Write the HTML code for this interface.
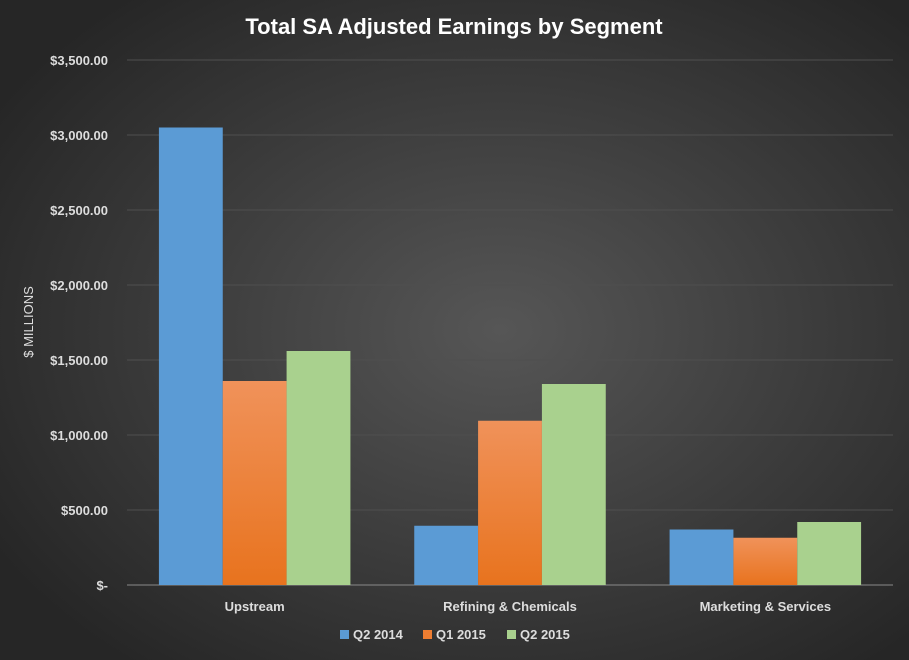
<!DOCTYPE html>
<html><head><meta charset="utf-8"><style>
html,body{margin:0;padding:0;width:909px;height:660px;overflow:hidden;background:#333;}
svg{display:block;font-family:"Liberation Sans",sans-serif;}
</style></head><body>
<svg id="chart" width="909" height="660">
<defs>
<radialGradient id="bg" cx="55%" cy="50%" r="65%">
<stop offset="0" stop-color="#565656"/><stop offset="1" stop-color="#262626"/>
</radialGradient>
<linearGradient id="og" x1="0" y1="0" x2="0" y2="1">
<stop offset="0" stop-color="#f0925a"/><stop offset="1" stop-color="#e8731e"/>
</linearGradient>
</defs>
<rect width="909" height="660" fill="url(#bg)"/>
<text x="454" y="34" text-anchor="middle" fill="#fff" font-size="22" font-weight="bold">Total SA Adjusted Earnings by Segment</text>
<text transform="translate(33,322) rotate(-90)" text-anchor="middle" fill="#ddd" font-size="13">$ MILLIONS</text>
<g id="grid"></g><g id="bars"></g><g id="xl"></g>
<g>
<rect x="340" y="630" width="9" height="9" fill="#5b9bd5"/>
<text x="353" y="639" fill="#ddd" font-size="13" font-weight="bold">Q2 2014</text>
<rect x="423" y="630" width="9" height="9" fill="#ed7d31"/>
<text x="436" y="639" fill="#ddd" font-size="13" font-weight="bold">Q1 2015</text>
<rect x="507" y="630" width="9" height="9" fill="#a9d18e"/>
<text x="520" y="639" fill="#ddd" font-size="13" font-weight="bold">Q2 2015</text>
</g>
</svg>
<script>
const categories=["Upstream","Refining & Chemicals","Marketing & Services"];
const q22014=[3050,395,370];
const q12015=[1360,1095,315];
const q22015=[1560,1340,420];
const ticks=[0,500,1000,1500,2000,2500,3000,3500];
const tickLabels=["$-","$500.00","$1,000.00","$1,500.00","$2,000.00","$2,500.00","$3,000.00","$3,500.00"];
const NS="http://www.w3.org/2000/svg";
const x0=127,x1=893,yb=585,yt=60,ymax=3500;
const y=v=>yb-(v/ymax)*(yb-yt);
const bw=(x1-x0)/categories.length;
function mk(t,a,p){const e=document.createElementNS(NS,t);for(const k in a)e.setAttribute(k,a[k]);p.appendChild(e);return e;}
const g=document.getElementById('grid');
ticks.forEach((t,i)=>{
 const l=mk('line',{x1:x0,x2:x1,y1:y(t),y2:y(t),stroke:i==0?'#8a8a8a':'#4f4f4f','stroke-width':1},g);
 
 
 const tx=mk('text',{x:108,y:y(t)+5,'text-anchor':'end',fill:'#ddd','font-size':13,'font-weight':'bold'},g);
 tx.textContent=tickLabels[i];
 
 
});
const series=[q22014,q12015,q22015],fills=['#5b9bd5','url(#og)','#a9d18e'],names=['q2-2014','q1-2015','q2-2015'];
const b=document.getElementById('bars'),xl=document.getElementById('xl');
categories.forEach((c,ci)=>{
 const cx=x0+bw*ci+bw/2,w=bw*0.25;
 series.forEach((s,si)=>{
  const r=mk('rect',{x:cx-1.5*w+si*w,y:y(s[ci]),width:w,height:yb-y(s[ci]),fill:fills[si]},b);
  
  
 });
 const t=mk('text',{x:cx,y:611,'text-anchor':'middle',fill:'#ddd','font-size':13,'font-weight':'bold'},xl);
 t.textContent=c;
 
 
});
</script>
</body></html>
